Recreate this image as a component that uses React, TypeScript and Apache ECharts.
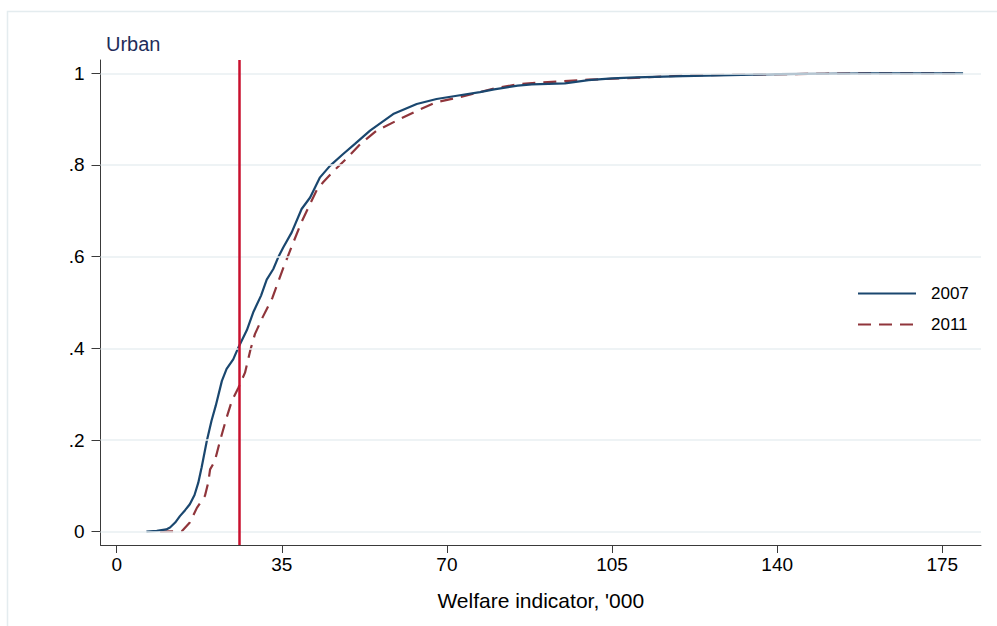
import React, { useEffect, useRef } from "react";
import * as echarts from "echarts";

const seriesNames = ["2007", "2011"];

const welfare2007: number[] = [6.3, 8.5, 10.5, 11.3, 12.4, 13.4, 14.5, 15.5, 16.5, 17.3, 18.0, 19.1, 20.1, 21.0, 22.3, 23.3, 24.7, 25.8, 27.6, 29.0, 30.6, 31.8, 33.2, 34.3, 35.3, 37.1, 39.2, 41.0, 43.1, 45.2, 48.0, 50.5, 53.7, 58.6, 63.6, 67.8, 72.1, 77.0, 80, 85, 88, 95, 100, 105, 110, 120, 130, 140, 150, 160, 179.4];
const cdf2007: number[] = [0, 0.002, 0.005, 0.009, 0.02, 0.034, 0.047, 0.06, 0.08, 0.107, 0.14, 0.198, 0.242, 0.275, 0.329, 0.355, 0.376, 0.402, 0.44, 0.48, 0.515, 0.55, 0.573, 0.6, 0.62, 0.653, 0.704, 0.729, 0.773, 0.798, 0.824, 0.846, 0.875, 0.911, 0.933, 0.944, 0.951, 0.959, 0.965, 0.973, 0.976, 0.978, 0.985, 0.989, 0.991, 0.994, 0.996, 0.998, 0.999, 1, 1];

const welfare2011: number[] = [9.2, 13.8, 15.5, 17.0, 18.7, 19.4, 19.8, 20.8, 21.9, 23.3, 24.4, 25.8, 27.2, 28.3, 29.3, 30.9, 33.0, 35.3, 37.4, 39.2, 41.0, 42.4, 43.8, 45.9, 48.8, 51.6, 55.1, 59.4, 63.6, 67.8, 72.7, 77.0, 80, 85, 90, 100, 110, 120, 130, 150, 160, 179.4];
const cdf2011: number[] = [0, 0.001, 0.02, 0.052, 0.078, 0.107, 0.136, 0.154, 0.198, 0.249, 0.285, 0.314, 0.347, 0.395, 0.431, 0.467, 0.51, 0.575, 0.63, 0.676, 0.715, 0.745, 0.763, 0.786, 0.815, 0.845, 0.875, 0.897, 0.918, 0.937, 0.948, 0.959, 0.967, 0.976, 0.98, 0.986, 0.99, 0.995, 0.997, 0.999, 1, 1];

const xTicks = [0, 35, 70, 105, 140, 175];
const yTicks = [0, 0.2, 0.4, 0.6, 0.8, 1];
const yTickLabels = ["0", ".2", ".4", ".6", ".8", "1"];
const povertyLine = 25.9;

const FONT = "'Liberation Sans', Arial, sans-serif";

export default function App() {
  const ref = useRef<HTMLDivElement>(null);
  useEffect(() => {
    if (!ref.current) return;
    const chart = echarts.init(ref.current, undefined, { renderer: "svg" });
    const d2007 = welfare2007.map((x, i) => [x, cdf2007[i]]);
    const d2011 = welfare2011.map((x, i) => [x, cdf2011[i]]);
    chart.setOption({
      animation: false,
      backgroundColor: "#ffffff",
      graphic: [
        {
          type: "rect",
          shape: { x: 7.5, y: 11.5, width: 1200, height: 800 },
          style: { fill: "none", stroke: "#e4ecef", lineWidth: 1.5 },
          silent: true,
          z: -10,
        },
        {
          type: "text",
          x: 106,
          y: 54,
          style: { text: "Urban", fill: "#1f2d5a", font: `20px ${FONT}`, textVerticalAlign: "bottom" },
        },
      ],
      grid: { left: 100.5, right: 16, top: 60, bottom: 81, containLabel: false },
      legend: {
        orient: "vertical",
        left: 852,
        top: 280,
        itemWidth: 58,
        itemHeight: 16,
        itemGap: 14,
        data: seriesNames,
        itemStyle: { opacity: 0 },
        textStyle: { fontSize: 17, fontFamily: FONT, color: "#000", padding: [0, 0, 0, 10] },
      },
      xAxis: {
        type: "value",
        min: -3.43,
        max: 183.2,
        name: "Welfare indicator, '000",
        nameLocation: "middle",
        nameGap: 45,
        nameTextStyle: { fontSize: 21, fontFamily: FONT, color: "#000" },
        axisLine: { show: true, onZero: false, lineStyle: { color: "#3a3a3a", width: 1 } },
        axisTick: { show: true, length: 8, customValues: xTicks, lineStyle: { color: "#3a3a3a" } },
        axisLabel: { customValues: xTicks, fontSize: 19, fontFamily: FONT, color: "#000", margin: 10 },
        splitLine: { show: false },
      },
      yAxis: {
        type: "value",
        min: -0.029,
        max: 1.029,
        axisLine: { show: true, onZero: false, lineStyle: { color: "#3a3a3a", width: 1 } },
        axisTick: { show: true, length: 9, customValues: yTicks, lineStyle: { color: "#3a3a3a" } },
        axisLabel: {
          customValues: yTicks,
          fontSize: 19,
          fontFamily: FONT,
          color: "#000",
          margin: 16,
          formatter: (v: number) => {
            const i = yTicks.findIndex((t) => Math.abs(t - v) < 1e-6);
            return i >= 0 ? yTickLabels[i] : "";
          },
        },
        splitLine: { show: false },
      },
      series: [
        {
          name: "gridlines",
          type: "line",
          data: [],
          silent: true,
          markLine: {
            silent: true,
            symbol: "none",
            label: { show: false },
            lineStyle: { color: "#e8eff2", width: 1.5, type: "solid" },
            data: yTicks.map((t) => ({ yAxis: t })),
          },
          z: 0,
        },
        {
          name: "2007",
          type: "line",
          data: d2007,
          showSymbol: false,
          symbol: "none",
          lineStyle: { color: "#1a476f", width: 2.2 },
          itemStyle: { color: "#1a476f" },
          z: 4,
        },
        {
          name: "2011",
          type: "line",
          data: d2011,
          showSymbol: false,
          symbol: "none",
          lineStyle: { color: "#90353b", width: 2.2, type: [13, 8] },
          itemStyle: { color: "#90353b" },
          z: 3,
        },
        {
          name: "poverty",
          type: "line",
          data: [],
          markLine: {
            silent: true,
            symbol: "none",
            label: { show: false },
            lineStyle: { color: "#c8102e", width: 2.5, type: "solid" },
            data: [{ xAxis: povertyLine }],
          },
          z: 5,
        },
      ],
    });
    return () => chart.dispose();
  }, []);
  return (
    <div
      ref={ref}
      style={{ position: "absolute", left: 0, top: 0, width: 997, height: 626 }}
    />
  );
}
